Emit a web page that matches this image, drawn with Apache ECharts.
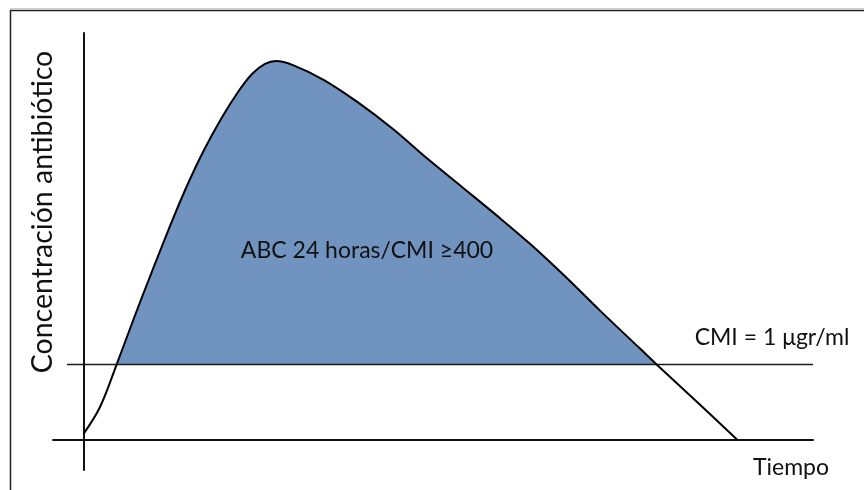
<!DOCTYPE html>
<html>
<head>
<meta charset="utf-8">
<script src="https://cdn.jsdelivr.net/npm/echarts@6/dist/echarts.min.js"></script>
<style>
html,body{margin:0;padding:0;background:#fff;}
#chart{width:864px;height:490px;}
</style>
</head>
<body>
<div id="chart"></div>
<script>
// Time (arbitrary units) and antibiotic concentration (µgr/ml)
var curveTime = [0, 1.65, 3.35, 5.05, 6.85, 8.55, 10.25, 11.95, 13.75, 15.45, 16.85, 18.15, 19.25, 20.95, 24.05, 27.45, 30.95, 34.35, 37.85, 41.25, 44.65, 48.15, 51.55, 55.65, 57.15, 61.25, 65.35];
var curveConc = [0.073, 0.433, 1.013, 1.62, 2.24, 2.813, 3.353, 3.833, 4.273, 4.633, 4.873, 5.007, 5.047, 4.992, 4.793, 4.495, 4.14, 3.749, 3.367, 2.995, 2.609, 2.176, 1.732, 1.212, 1.021, 0.513, 0];
var cmiValue = 1;
var cmiLineTime = [-1.65, 72.95];
var fillStartTime = 3.31;
var fillEndTime = 57.32;
var timeRange = [-3.05, 72.95];
var concRange = [-0.4067, 5.42];

var yTitle = 'Concentración antibiótico';
var xTitle = 'Tiempo';
var areaLabel = 'ABC 24 horas/CMI ≥400';
var cmiLabel = 'CMI = 1 μgr/ml';

var curveData = curveTime.map(function (t, i) { return [t, curveConc[i]]; });
var fillData = curveData.filter(function (p) { return p[1] >= cmiValue; });
// close the filled region on the CMI line
fillData.unshift([fillStartTime, cmiValue]);
fillData.push([fillEndTime, cmiValue]);
var cmiData = cmiLineTime.map(function (t) { return [t, cmiValue]; });

var font = 'Lato, "Open Sans", sans-serif';
var chart = echarts.init(document.getElementById('chart'));
chart.setOption({
  animation: false,
  backgroundColor: '#ffffff',
  grid: { left: 53, right: 51, top: 33, bottom: 20 },
  xAxis: {
    type: 'value', min: timeRange[0], max: timeRange[1],
    axisLine: { show: true, onZero: true, lineStyle: { color: '#111', width: 2 } },
    axisTick: { show: false }, axisLabel: { show: false }, splitLine: { show: false }
  },
  yAxis: {
    type: 'value', min: concRange[0], max: concRange[1],
    axisLine: { show: true, onZero: true, lineStyle: { color: '#111', width: 2 } },
    axisTick: { show: false }, axisLabel: { show: false }, splitLine: { show: false }
  },
  series: [
    {
      type: 'line', data: fillData, smooth: 0.35, symbol: 'none',
      lineStyle: { width: 0 },
      areaStyle: { color: '#7193bf', opacity: 1, origin: cmiValue },
      silent: true
    },
    {
      type: 'line', data: cmiData, symbol: 'none',
      lineStyle: { color: '#1a1a1a', width: 1.5 }, silent: true
    },
    {
      type: 'line', data: curveData, smooth: 0.35, symbol: 'none',
      lineStyle: { color: '#000', width: 2 }, silent: true
    }
  ],
  graphic: [
    { type: 'polyline', z: 100, shape: { points: [[10.5, 490], [10.5, 10.5], [864, 10.5]] }, style: { stroke: '#222', lineWidth: 1.5, fill: null }, silent: true },
    { type: 'line', z: 100, shape: { x1: 10, y1: 8.5, x2: 864, y2: 8.5 }, style: { stroke: '#d0d0d0', lineWidth: 1 }, silent: true },
    { type: 'text', z: 100, x: 43, y: 212, rotation: Math.PI / 2,
      style: { text: yTitle, font: '28.5px ' + font, fill: '#111', textAlign: 'center', textVerticalAlign: 'middle' } },
    { type: 'text', z: 100, x: 367, y: 251,
      style: { text: areaLabel, font: '23px ' + font, fill: '#111', textAlign: 'center', textVerticalAlign: 'middle' } },
    { type: 'text', z: 100, x: 772, y: 338,
      style: { text: cmiLabel, font: '23px ' + font, fill: '#111', textAlign: 'center', textVerticalAlign: 'middle' } },
    { type: 'text', z: 100, x: 791, y: 468,
      style: { text: xTitle, font: '23px ' + font, fill: '#111', textAlign: 'center', textVerticalAlign: 'middle' } }
  ]
});
</script>
</body>
</html>
